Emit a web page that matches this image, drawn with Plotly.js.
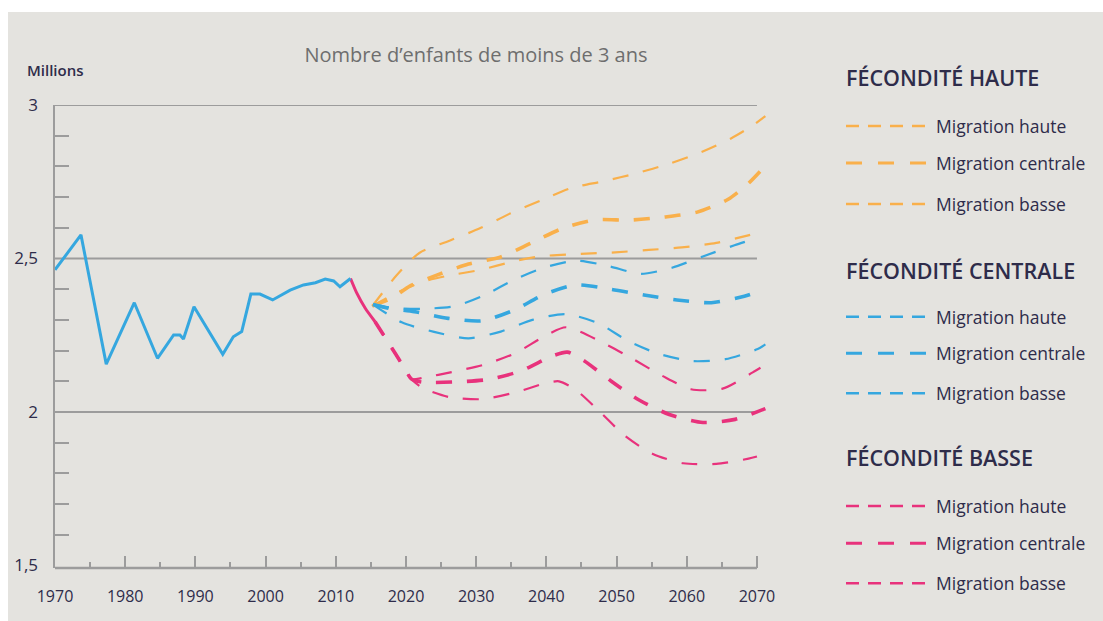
<!DOCTYPE html>
<html><head><meta charset="utf-8">
<script src="https://cdn.plot.ly/plotly-3.0.1.min.js"></script>
<style>
html,body{margin:0;padding:0;background:#ffffff;width:1103px;height:621px;overflow:hidden}
#chart{position:absolute;left:8px;top:12px;width:1095px;height:609px}
</style>
</head><body><div id="chart"></div>
<script>
// ---------- DATA ----------
const chartTitle = 'Nombre d\u2019enfants de moins de 3 ans';
const unitLabel = 'Millions';
const groupTitles = ['FÉCONDITÉ HAUTE', 'FÉCONDITÉ CENTRALE', 'FÉCONDITÉ BASSE'];
const migrationLabels = ['Migration haute', 'Migration centrale', 'Migration basse'];

// Observed
const histYears  = [1970, 1973.7, 1977.3, 1981.3, 1984.6, 1986.9, 1987.8, 1988.3, 1989.8, 1993.9, 1995.4, 1996.6, 1997.9, 1999.2, 2001.0, 2003.5, 2005.4, 2007.1, 2008.5, 2009.7, 2010.6, 2012.1];
const histValues = [2.463, 2.577, 2.156, 2.356, 2.175, 2.251, 2.251, 2.238, 2.343, 2.188, 2.245, 2.262, 2.384, 2.384, 2.365, 2.397, 2.414, 2.421, 2.433, 2.427, 2.408, 2.435];

// Low-fertility start segment (solid)
const lowStartYears  = [2012.1, 2013.0, 2014.2, 2015.6];
const lowStartValues = [2.435, 2.387, 2.338, 2.294];

// Fécondité haute
const ohYears  = [2015.2, 2018.7, 2021.9, 2026.2, 2030.6, 2034.9, 2039.2, 2043.6, 2048.2, 2052.9, 2057.4, 2061.9, 2066.3, 2069.3, 2071.2];
const ohValues = [2.345, 2.446, 2.518, 2.558, 2.599, 2.647, 2.689, 2.730, 2.752, 2.778, 2.808, 2.845, 2.891, 2.932, 2.964];
const ocYears  = [2015.2, 2018.0, 2020.6, 2024.3, 2028.9, 2033.5, 2037.8, 2042.3, 2047.1, 2051.8, 2056.8, 2061.5, 2065.9, 2068.8, 2070.5];
const ocValues = [2.345, 2.371, 2.411, 2.445, 2.482, 2.505, 2.550, 2.598, 2.626, 2.625, 2.635, 2.651, 2.693, 2.745, 2.785];
const obYears  = [2015.2, 2019.0, 2022.5, 2026.0, 2030.6, 2035.4, 2039.1, 2044.9, 2049.8, 2054.6, 2059.3, 2064.2, 2068.9, 2070.2];
const obValues = [2.345, 2.392, 2.425, 2.444, 2.463, 2.491, 2.507, 2.515, 2.520, 2.528, 2.536, 2.551, 2.576, 2.584];

// Fécondité centrale
const bhYears  = [2015.3, 2018.5, 2022.3, 2027.0, 2031.2, 2035.6, 2039.9, 2044.4, 2048.9, 2053.4, 2057.9, 2062.2, 2066.8, 2070.2];
const bhValues = [2.350, 2.338, 2.336, 2.345, 2.381, 2.433, 2.472, 2.493, 2.475, 2.450, 2.470, 2.506, 2.543, 2.568];
const bcYears  = [2015.3, 2017.5, 2021.2, 2026.0, 2030.8, 2035.4, 2039.7, 2044.2, 2049.1, 2053.9, 2058.6, 2063.5, 2068.2, 2070.5];
const bcValues = [2.350, 2.338, 2.327, 2.305, 2.297, 2.332, 2.383, 2.414, 2.400, 2.381, 2.365, 2.356, 2.377, 2.395];
const bbYears  = [2015.3, 2019.4, 2024.0, 2028.9, 2033.5, 2038.0, 2042.7, 2047.4, 2051.6, 2055.8, 2060.7, 2065.5, 2070.1, 2071.2];
const bbValues = [2.350, 2.292, 2.261, 2.240, 2.262, 2.300, 2.319, 2.289, 2.232, 2.191, 2.166, 2.172, 2.205, 2.220];

// Fécondité basse
const phYears  = [2015.6, 2017.6, 2019.6, 2020.8, 2022.5, 2026.5, 2031.1, 2035.6, 2039.6, 2042.8, 2048.1, 2052.3, 2056.5, 2060.6, 2065.1, 2069.4, 2070.5];
const phValues = [2.294, 2.222, 2.150, 2.107, 2.112, 2.130, 2.154, 2.192, 2.245, 2.276, 2.225, 2.173, 2.118, 2.074, 2.076, 2.129, 2.144];
const pcYears  = [2015.6, 2017.6, 2019.6, 2020.8, 2022.5, 2027.0, 2031.7, 2036.4, 2040.8, 2043.0, 2045.3, 2049.2, 2053.2, 2057.5, 2062.3, 2066.9, 2071.2];
const pcValues = [2.294, 2.222, 2.150, 2.107, 2.097, 2.098, 2.106, 2.134, 2.182, 2.195, 2.168, 2.101, 2.039, 1.992, 1.966, 1.976, 2.011];
const pbYears  = [2015.6, 2017.6, 2019.6, 2020.8, 2022.4, 2026.1, 2030.9, 2035.6, 2039.9, 2041.8, 2044.2, 2047.7, 2051.1, 2055.1, 2059.5, 2064.2, 2068.8, 2070.0];
const pbValues = [2.294, 2.222, 2.150, 2.107, 2.078, 2.049, 2.042, 2.064, 2.094, 2.100, 2.072, 1.999, 1.924, 1.864, 1.833, 1.831, 1.848, 1.855];

const gridValues = [2, 2.5, 3];

// ---------- STYLE ----------
const ORANGE = '#f9b04b', BLUE = '#35a7df', PINK = '#e8327c';
const BG = '#e4e3df', AXIS = '#9c9c9c', TXT = '#2e2c4a';
const FONT = '"Open Sans", Lato, sans-serif';
const THIN = 2.2, THICK = 3.6, CHART_DASH = '16px,15px';

const groups = [
  {color: ORANGE, series: [[ohYears, ohValues], [ocYears, ocValues], [obYears, obValues]]},
  {color: BLUE,   series: [[bhYears, bhValues], [bcYears, bcValues], [bbYears, bbValues]]},
  {color: PINK,   series: [[phYears, phValues], [pcYears, pcValues], [pbYears, pbValues]]}
];

const traces = [];
groups.forEach((g, gi) => {
  g.series.forEach((s, si) => {
    traces.push({
      x: s[0], y: s[1], type: 'scatter', mode: 'lines',
      name: groupTitles[gi] + ' – ' + migrationLabels[si],
      line: {color: g.color, width: si === 1 ? THICK : THIN, dash: CHART_DASH, shape: 'spline', smoothing: 0.7},
      showlegend: false, hoverinfo: 'x+y'
    });
  });
});
traces.push({x: lowStartYears, y: lowStartValues, type: 'scatter', mode: 'lines', name: 'Fécondité basse (début)',
  line: {color: PINK, width: 3, shape: 'spline', smoothing: 0.6}, showlegend: false});
traces.push({x: histYears, y: histValues, type: 'scatter', mode: 'lines', name: 'Observé',
  line: {color: BLUE, width: 3}, showlegend: false});

// ---------- LAYOUT ----------
// page-pixel → paper helpers (plot area spans page x 55..771, y 105..568)
const PX0 = 55, PX1 = 771, PY0 = 105, PY1 = 568;
const px = v => (v - PX0) / (PX1 - PX0);
const py = v => (PY1 - v) / (PY1 - PY0);

const shapes = [];
const annotations = [];

gridValues.forEach(v => shapes.push({type: 'line', xref: 'x', yref: 'y', x0: 1970, x1: 2070, y0: v, y1: v,
  line: {color: AXIS, width: 2}, layer: 'below'}));
shapes.push({type: 'line', xref: 'x', yref: 'paper', x0: 1970, x1: 2070, y0: 0, y1: 0, line: {color: AXIS, width: 2.5}, layer: 'below'});

// custom legend
const headerY = [77, 270, 458];
const itemY = [[126, 163, 204], [316.7, 353.3, 393.3], [506, 543.3, 583.3]];
groups.forEach((g, gi) => {
  annotations.push({xref: 'paper', yref: 'paper', x: px(844), y: py(headerY[gi]), xanchor: 'left', yanchor: 'middle',
    text: groupTitles[gi], showarrow: false, font: {family: FONT, size: 21.5, color: TXT, weight: 600}});
  migrationLabels.forEach((lab, si) => {
    const yy = py(itemY[gi][si]);
    shapes.push({type: 'line', xref: 'paper', yref: 'paper', x0: px(846), x1: px(926), y0: yy, y1: yy,
      line: {color: g.color, width: si === 1 ? 3 : 2.5, dash: si === 1 ? '16px,16px' : '13px,9px'}});
    annotations.push({xref: 'paper', yref: 'paper', x: px(934), y: yy, xanchor: 'left', yanchor: 'middle',
      text: lab, showarrow: false, font: {family: FONT, size: 17.5, color: TXT}});
  });
});

annotations.push({xref: 'paper', yref: 'paper', x: px(25), y: py(70), xanchor: 'left', yanchor: 'middle',
  text: unitLabel, showarrow: false, font: {family: FONT, size: 15, color: TXT, weight: 600}});

const layout = {
  width: 1095, height: 609,
  margin: {l: 47, r: 332, t: 93, b: 53},
  paper_bgcolor: BG, plot_bgcolor: BG,
  separators: ', ',
  font: {family: FONT, color: TXT},
  title: {text: chartTitle, x: (476 - 8) / 1095, xanchor: 'center', y: 1 - (55 - 12) / 609, yanchor: 'middle',
    font: {family: FONT, size: 20, color: '#6e6e6e'}},
  xaxis: {
    range: [1970, 2072], tickmode: 'linear', tick0: 1970, dtick: 10,
    showgrid: false, zeroline: false, showline: false,
    ticks: 'inside', ticklen: 12, tickwidth: 2, tickcolor: AXIS,
    minor: {dtick: 5, ticks: 'inside', ticklen: 6, tickwidth: 2, tickcolor: AXIS, showgrid: false},
    tickfont: {family: FONT, size: 16, color: TXT}, ticklabelstandoff: 17
  },
  yaxis: {
    range: [3 - 463 / 307, 3], tickmode: 'linear', tick0: 1.5, dtick: 0.5,
    showgrid: false, zeroline: false, showline: true, linecolor: AXIS, linewidth: 2.5,
    ticks: '',
    minor: {dtick: 0.1, ticks: 'inside', ticklen: 14, tickwidth: 2, tickcolor: AXIS, showgrid: false},
    tickfont: {family: FONT, size: 17, color: TXT}, ticklabelstandoff: 11
  },
  shapes: shapes,
  annotations: annotations,
  showlegend: false
};

Plotly.newPlot('chart', traces, layout, {displayModeBar: false, staticPlot: true});
</script>
</body></html>
